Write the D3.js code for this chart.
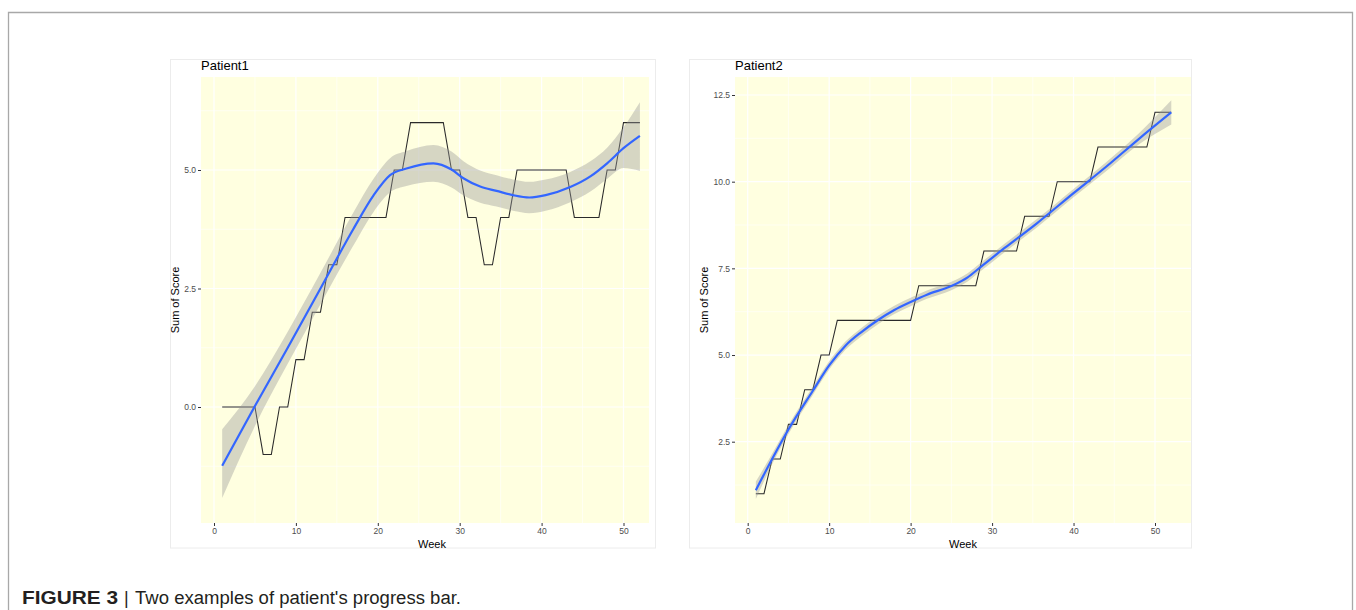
<!DOCTYPE html>
<html>
<head>
<meta charset="utf-8">
<script src="https://cdn.jsdelivr.net/npm/d3@7"></script>
<style>
  html, body { margin: 0; padding: 0; background: #fff; }
  svg { display: block; }
</style>
</head>
<body>
<svg id="chart" width="1356" height="610"></svg>
<script>
// ---------- DATA ----------
const weeks = [1,2,3,4,5,6,7,8,9,10,11,12,13,14,15,16,17,18,19,20,21,22,23,24,25,26,
               27,28,29,30,31,32,33,34,35,36,37,38,39,40,41,42,43,44,45,46,47,48,49,50,51,52];

const p1Score = [0,0,0,0,0,-1,-1,0,0,1,1,2,2,3,3,4,4,4,4,4,4,5,5,6,6,6,
                 6,6,5,5,4,4,3,3,4,4,5,5,5,5,5,5,5,4,4,4,4,5,5,6,6,6];
const p2Score = [1,1,2,2,3,3,4,4,5,5,6,6,6,6,6,6,6,6,6,6,7,7,7,7,7,7,
                 7,7,8,8,8,8,8,9,9,9,9,10,10,10,10,10,11,11,11,11,11,11,11,12,12,12];

// loess fit (blue) and its confidence band
const p1SmoothWeek = [1,5,9,13,17,19.5,21.5,23.5,26.8,29,30.5,32.5,34.5,36.5,38.5,40.5,43.5,46,48,50,52];
const p1Fit = [-1.24,0.02,1.25,2.5,3.75,4.47,4.89,5.03,5.14,5.01,4.82,4.65,4.56,4.47,4.42,4.47,4.64,4.87,5.14,5.46,5.72];
const p1Hi  = [-0.47,0.44,1.59,2.83,4.10,4.82,5.25,5.40,5.53,5.39,5.18,4.99,4.89,4.80,4.75,4.80,4.96,5.19,5.47,5.90,6.43];
const p1Lo  = [-1.92,-0.40,0.91,2.17,3.40,4.12,4.53,4.66,4.75,4.63,4.46,4.31,4.23,4.14,4.09,4.14,4.32,4.55,4.81,5.04,4.98];

const p2SmoothWeek = [1,3,5,8,10,12,14,16,18,20,22,25,27,28.5,31.5,35.5,40,44,48,52];
const p2Fit = [1.10,2.00,2.85,3.97,4.70,5.27,5.67,6.01,6.30,6.53,6.74,6.99,7.24,7.52,8.08,8.80,9.67,10.43,11.23,12.00];
const p2Hi  = [1.35,2.15,2.98,4.09,4.82,5.39,5.79,6.13,6.42,6.65,6.86,7.11,7.36,7.64,8.20,8.92,9.79,10.56,11.39,12.35];
const p2Lo  = [0.85,1.85,2.72,3.85,4.58,5.15,5.55,5.89,6.18,6.41,6.62,6.87,7.12,7.40,7.96,8.68,9.55,10.30,11.07,11.65];

const xTicks = [0,10,20,30,40,50];
const xMinor = [5,15,25,35,45];
const p1YTicks = [0,2.5,5];
const p1YMinor = [-1.25,1.25,3.75,6.25];
const p2YTicks = [2.5,5,7.5,10,12.5];
const p2YMinor = [1.25,3.75,6.25,8.75,11.25];

const titles = ["Patient1","Patient2"];
const xTitle = "Week";
const yTitle = "Sum of Score";
const captionBold = "FIGURE 3";
const captionBar = "|";
const captionText = "Two examples of patient's progress bar.";

// ---------- DRAW ----------
const svg = d3.select("#chart");
const FONT = "Liberation Sans, Arial, sans-serif";

// figure frame
svg.append("path")
  .attr("d", "M8.5,620 V12.5 H1352.5 V620")
  .attr("fill","none").attr("stroke","#a8a8a8").attr("stroke-width",1.3);

// plot outer boxes
svg.append("rect").attr("x",170.5).attr("y",59.5).attr("width",485).attr("height",488.5)
  .attr("fill","none").attr("stroke","#ececec").attr("stroke-width",1);
svg.append("rect").attr("x",689.5).attr("y",59.5).attr("width",502).attr("height",488.5)
  .attr("fill","none").attr("stroke","#ececec").attr("stroke-width",1);

function drawPanel(cfg) {
  const g = svg.append("g");
  const P = cfg.panel;
  const x = d3.scaleLinear().domain([0,50]).range(cfg.xRange);
  const y = d3.scaleLinear().domain(cfg.yDom).range(cfg.yRange);

  const clipId = "clip" + cfg.id;
  svg.append("clipPath").attr("id", clipId).append("rect")
    .attr("x",P.x0).attr("y",P.y0).attr("width",P.x1-P.x0).attr("height",P.y1-P.y0);

  g.append("rect").attr("x",P.x0).attr("y",P.y0).attr("width",P.x1-P.x0).attr("height",P.y1-P.y0)
    .attr("fill","#FFFFE0");

  const grid = g.append("g").attr("clip-path",`url(#${clipId})`);
  grid.selectAll(".vminor").data(xMinor).join("line")
    .attr("x1",d=>x(d)).attr("x2",d=>x(d)).attr("y1",P.y0).attr("y2",P.y1)
    .attr("stroke","#fff").attr("stroke-width",0.6);
  grid.selectAll(".hminor").data(cfg.yMinor).join("line")
    .attr("x1",P.x0).attr("x2",P.x1).attr("y1",d=>y(d)).attr("y2",d=>y(d))
    .attr("stroke","#fff").attr("stroke-width",0.6);
  grid.selectAll(".vmajor").data(xTicks).join("line")
    .attr("x1",d=>x(d)).attr("x2",d=>x(d)).attr("y1",P.y0).attr("y2",P.y1)
    .attr("stroke","#fff").attr("stroke-width",1.2);
  grid.selectAll(".hmajor").data(cfg.yTicks).join("line")
    .attr("x1",P.x0).attr("x2",P.x1).attr("y1",d=>y(d)).attr("y2",d=>y(d))
    .attr("stroke","#fff").attr("stroke-width",1.2);

  const plot = g.append("g").attr("clip-path",`url(#${clipId})`);

  const stepData = weeks.map((w,i)=>[w, cfg.score[i]]);
  plot.append("path").datum(stepData)
    .attr("d", d3.line().x(d=>x(d[0])).y(d=>y(d[1])))
    .attr("fill","none").attr("stroke","#2a2a2a").attr("stroke-width",1.05);

  const band = cfg.sw.map((w,i)=>({w, lo:cfg.lo[i], hi:cfg.hi[i], f:cfg.fit[i]}));
  plot.append("path").datum(band)
    .attr("d", d3.area().curve(d3.curveMonotoneX).x(d=>x(d.w)).y0(d=>y(d.lo)).y1(d=>y(d.hi)))
    .attr("fill","#999999").attr("fill-opacity",0.4);
  plot.append("path").datum(band)
    .attr("d", d3.line().curve(d3.curveMonotoneX).x(d=>x(d.w)).y(d=>y(d.f)))
    .attr("fill","none").attr("stroke","#3366FF").attr("stroke-width",2.2);

  const xa = g.append("g").attr("transform",`translate(0,${P.y1})`)
    .call(d3.axisBottom(x).tickValues(xTicks).tickSize(3).tickPadding(1.5).tickFormat(d3.format("d")));
  xa.select(".domain").remove();
  xa.selectAll("line").attr("stroke","#333").attr("stroke-width",1);
  xa.selectAll("text").attr("fill","#4d4d4d").attr("font-size","8.5px").attr("font-family",FONT);

  const ya = g.append("g").attr("transform",`translate(${P.x0},0)`)
    .call(d3.axisLeft(y).tickValues(cfg.yTicks).tickSize(3).tickPadding(2).tickFormat(d3.format(".1f")));
  ya.select(".domain").remove();
  ya.selectAll("line").attr("stroke","#333").attr("stroke-width",1);
  ya.selectAll("text").attr("fill","#4d4d4d").attr("font-size","8.5px").attr("font-family",FONT);

  g.append("text").attr("x",P.x0).attr("y",70).text(cfg.title)
    .attr("font-family",FONT).attr("font-size","13px").attr("fill","#000");
  g.append("text").attr("x",cfg.xTitleX).attr("y",548).attr("text-anchor","middle").text(xTitle)
    .attr("font-family",FONT).attr("font-size","11px").attr("fill","#000");
  g.append("text").attr("transform",`translate(${cfg.yTitleX},${(P.y0+P.y1)/2}) rotate(-90)`)
    .attr("text-anchor","middle").text(yTitle)
    .attr("font-family",FONT).attr("font-size","11px").attr("fill","#000");
}

drawPanel({
  id:1, title:titles[0],
  panel:{x0:201, x1:649, y0:77, y1:523},
  xRange:[214, 623.5], yDom:[0,5], yRange:[407,170],
  yTicks:p1YTicks, yMinor:p1YMinor,
  score:p1Score, sw:p1SmoothWeek, fit:p1Fit, lo:p1Lo, hi:p1Hi,
  xTitleX:432, yTitleX:179
});
drawPanel({
  id:2, title:titles[1],
  panel:{x0:735, x1:1191, y0:77, y1:523},
  xRange:[747.7, 1155], yDom:[2.5,12.5], yRange:[441.7,95],
  yTicks:p2YTicks, yMinor:p2YMinor,
  score:p2Score, sw:p2SmoothWeek, fit:p2Fit, lo:p2Lo, hi:p2Hi,
  xTitleX:963, yTitleX:708
});

// caption
svg.append("text").attr("x",22).attr("y",604).text(captionBold)
  .attr("font-family",FONT).attr("font-size","18px").attr("font-weight","bold").attr("fill","#231f20")
  .attr("textLength",96).attr("lengthAdjust","spacingAndGlyphs");
svg.append("text").attr("x",124).attr("y",604).text(captionBar)
  .attr("font-family",FONT).attr("font-size","18px").attr("fill","#231f20");
svg.append("text").attr("x",135).attr("y",604).text(captionText)
  .attr("font-family",FONT).attr("font-size","18px").attr("fill","#231f20")
  .attr("textLength",326).attr("lengthAdjust","spacingAndGlyphs");
</script>
</body>
</html>
